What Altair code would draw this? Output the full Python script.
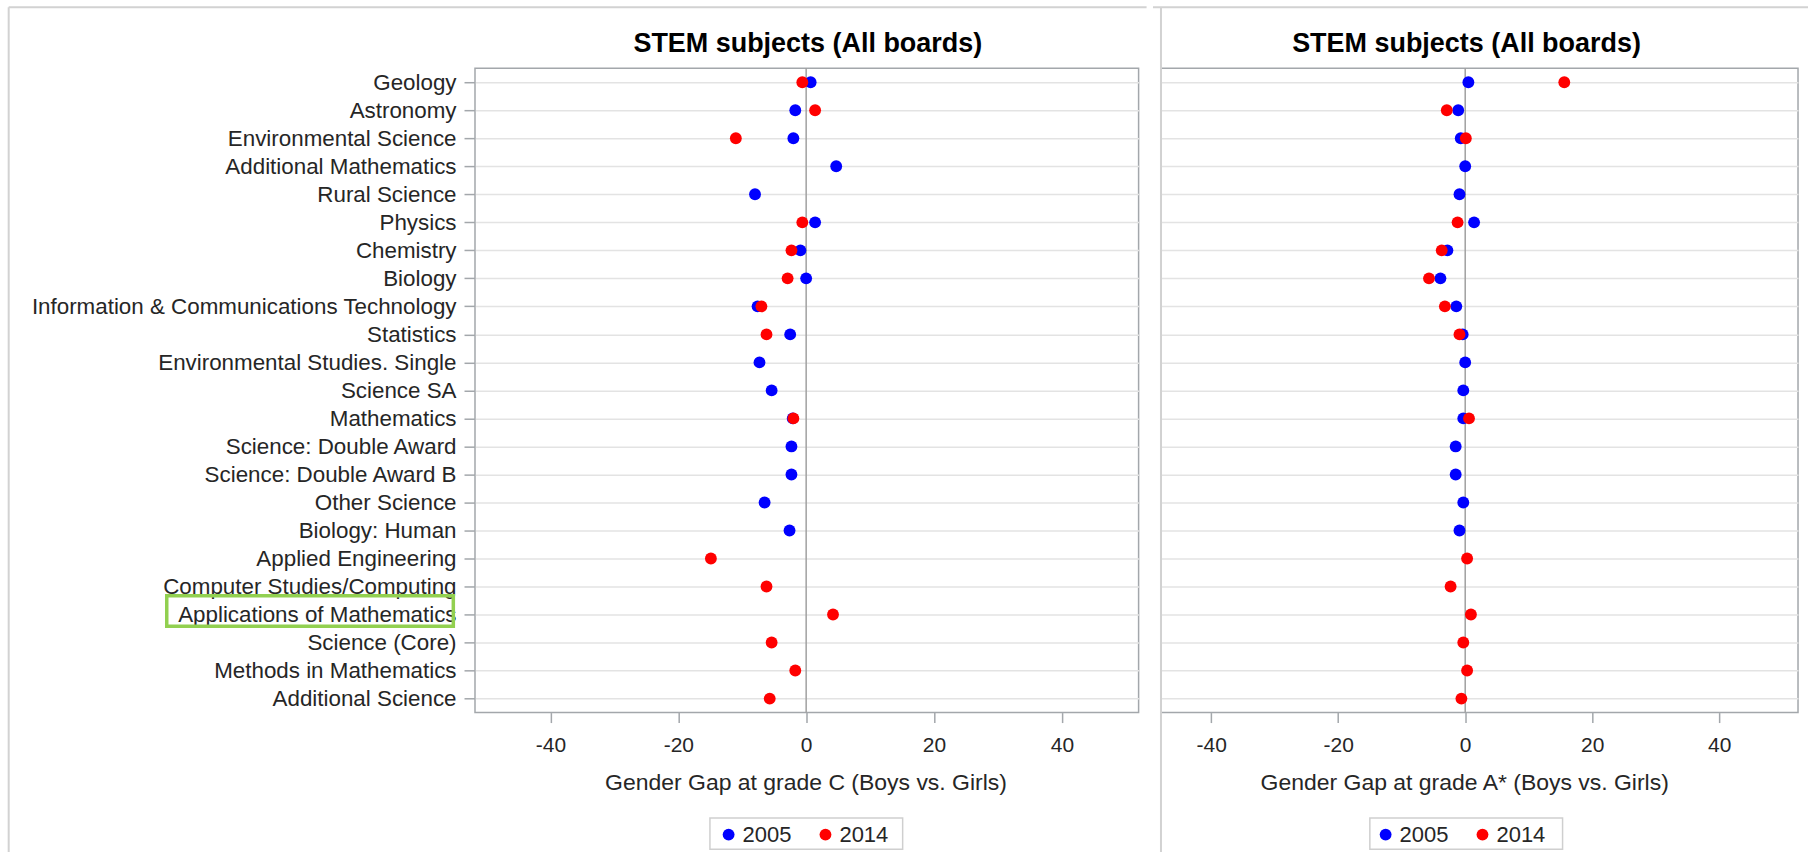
import altair as alt
import pandas as pd

# ---- data -------------------------------------------------------------
subjects = [
    "Geology", "Astronomy", "Environmental Science", "Additional Mathematics",
    "Rural Science", "Physics", "Chemistry", "Biology",
    "Information & Communications Technology", "Statistics",
    "Environmental Studies. Single", "Science SA", "Mathematics",
    "Science: Double Award", "Science: Double Award B", "Other Science",
    "Biology: Human", "Applied Engineering", "Computer Studies/Computing",
    "Applications of Mathematics", "Science (Core)", "Methods in Mathematics",
    "Additional Science",
]

# gender gap at grade C (boys minus girls, percentage points)
grade_c_2005 = [0.7, -1.7, -2.0, 4.7, -8.0, 1.4, -0.9, 0.0, -7.6, -2.5,
                -7.3, -5.4, -2.1, -2.3, -2.3, -6.5, -2.6,
                None, None, None, None, None, None]
grade_c_2014 = [-0.6, 1.4, -11.0, None, None, -0.6, -2.3, -2.9, -7.0, -6.2,
                None, None, -2.0, None, None, None, None,
                -14.9, -6.2, 4.2, -5.4, -1.7, -5.7]

# gender gap at grade A*
grade_astar_2005 = [0.5, -1.1, -0.7, 0.0, -0.9, 1.4, -2.8, -3.9, -1.4, -0.4,
                    0.0, -0.3, -0.3, -1.5, -1.5, -0.3, -0.9,
                    None, None, None, None, None, None]
grade_astar_2014 = [15.6, -2.9, 0.1, None, None, -1.2, -3.7, -5.7, -3.2, -0.9,
                    None, None, 0.6, None, None, None, None,
                    0.3, -2.3, 0.9, -0.3, 0.3, -0.6]

years = ["2005", "2014"]
year_colors = ["#0000ff", "#ff0000"]
tick_values = [-40, -20, 0, 20, 40]


def long_table(v2005, v2014):
    rows = []
    for year, values in zip(years, (v2005, v2014)):
        for subject, value in zip(subjects, values):
            if value is not None:
                rows.append({"subject": subject, "year": year, "gap": value})
    return pd.DataFrame(rows)


# ---- styling ------------------------------------------------------------
FONT = "Liberation Sans"
TEXT = "#262626"
AXIS_GRAY = "#a3a7ab"
GRID = "#e3e3e3"
BORDER = "#d2d2d2"
PLOT_H = 645.3
LEFT_W = 664.6
RIGHT_W = 638.0
DOT = 141

one = pd.DataFrame({"k": [0]})


def hrule(x1, x2, y, color=BORDER, width=2):
    return alt.Chart(one).mark_rule(color=color, strokeWidth=width).encode(
        x=alt.value(x1), x2=alt.value(x2), y=alt.value(y))


def vrule(x, y1, y2, color=BORDER, width=2):
    return alt.Chart(one).mark_rule(color=color, strokeWidth=width).encode(
        x=alt.value(x), y=alt.value(y1), y2=alt.value(y2))


def frame_box(x1, x2, y1, y2, color, width):
    return alt.Chart(one).mark_rect(fillOpacity=0, stroke=color, strokeWidth=width).encode(
        x=alt.value(x1), x2=alt.value(x2), y=alt.value(y1), y2=alt.value(y2))


def panel(data, x_title, width, domain, show_labels, legend_x, axis_title_x,
          title_dx, decorations):
    x = alt.X(
        "gap:Q",
        scale=alt.Scale(domain=domain, nice=False, zero=False),
        axis=alt.Axis(
            values=tick_values, title=x_title, grid=False, domain=False,
            tickSize=10, tickColor=AXIS_GRAY, tickWidth=1.5,
            labelFontSize=21, labelPadding=12, labelColor=TEXT,
            labelExpr="'' + datum.value",
            titleFontSize=23, titleFontWeight="normal", titleColor=TEXT,
            titleX=axis_title_x, titleY=59, titleBaseline="top", titleAlign="center",
        ),
    )
    if show_labels:
        y_axis = alt.Axis(
            title=None, domain=False, ticks=True, tickSize=11, tickColor=AXIS_GRAY,
            tickWidth=1.5, labelFontSize=22.4, labelPadding=8, labelLimit=600,
            labelColor=TEXT, grid=True, gridColor=GRID, gridWidth=1.5,
        )
    else:
        y_axis = alt.Axis(title=None, domain=False, ticks=False, labels=False,
                          grid=True, gridColor=GRID, gridWidth=1.5)
    y = alt.Y("subject:N", sort=subjects,
              scale=alt.Scale(type="point", padding=0.5), axis=y_axis)
    color = alt.Color(
        "year:N",
        scale=alt.Scale(domain=years, range=year_colors),
        legend=alt.Legend(
            orient="none", legendX=legend_x, legendY=756.5, direction="horizontal",
            title=None, labelFontSize=22, labelColor=TEXT, labelOffset=3,
            columnPadding=23, symbolSize=DOT, symbolType="circle", padding=0,
            symbolStrokeWidth=0,
        ),
    )
    zero_line = alt.Chart(one).mark_rule(color="#a0a0a0", strokeWidth=1.5).encode(
        x=alt.datum(0))
    points = alt.Chart(data).mark_circle(size=DOT, opacity=1).encode(
        x=x, y=y, color=color)
    return alt.layer(
        zero_line, points, *decorations,
        title=alt.Title("STEM subjects (All boards)", fontSize=27, fontWeight="bold",
                        color="#000000", font=FONT, offset=-51.5, frame="group",
                        anchor="middle", dx=title_dx),
    ).properties(width=width, height=PLOT_H)


left = panel(
    long_table(grade_c_2005, grade_c_2014),
    "Gender Gap at grade C (Boys vs. Girls)",
    LEFT_W, [-51.8, 52.0], True, legend_x=243, axis_title_x=331, title_dx=1,
    decorations=[
        hrule(-467, LEFT_W + 8, -61),
        vrule(-467, -61, 785),
        frame_box(-308.7, -21.7, 528.3, 558.9, "#92d050", 3.5),
        frame_box(235.3, 428.3, 751, 782.3, "#cfcfcf", 1.5),
    ],
)

right = panel(
    long_table(grade_astar_2005, grade_astar_2014),
    "Gender Gap at grade A* (Boys vs. Girls)",
    RIGHT_W, [-47.9, 52.4], False, legend_x=214, axis_title_x=303.7, title_dx=-13,
    decorations=[
        hrule(-8, RIGHT_W + 10, -61),
        vrule(0, -61, 785),
        frame_box(209.2, 402.2, 751, 782.3, "#cfcfcf", 1.5),
    ],
)

chart = (
    alt.hconcat(left, right, spacing=2)
    .resolve_scale(x="independent", y="independent", color="independent")
    .resolve_legend(color="independent")
    .properties(padding={"left": 6.7, "top": 4.7, "right": 0, "bottom": 0})
    .configure(font=FONT, background="#ffffff")
    .configure_view(stroke=AXIS_GRAY, strokeWidth=1.5)
)

chart.save("out.html", embed_options={"renderer": "svg", "actions": False})
